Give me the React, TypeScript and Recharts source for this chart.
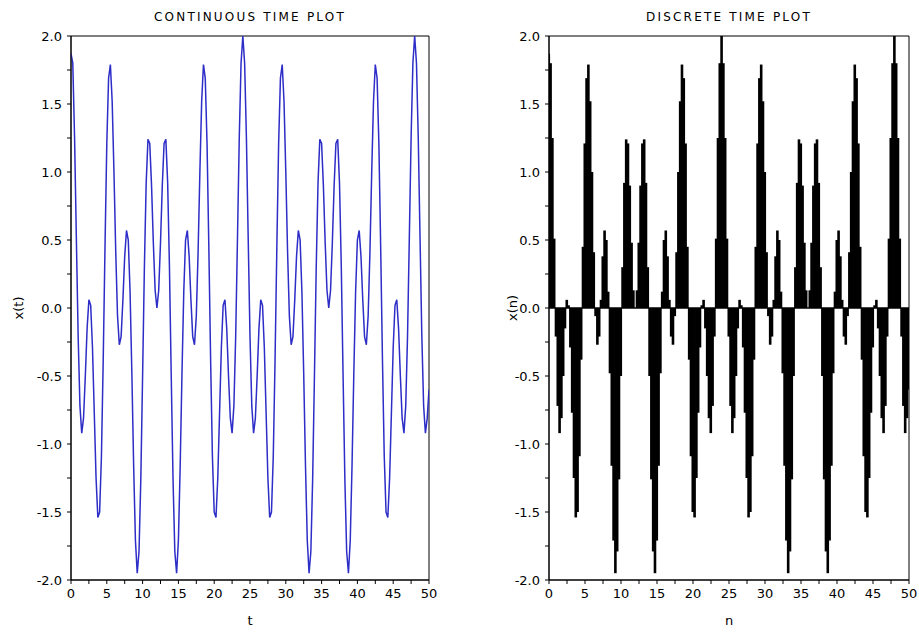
import React from 'react'
import {
  ComposedChart, Line, Bar, XAxis, YAxis, ReferenceArea, ReferenceLine,
} from 'recharts'

// sample spacing of the signal (t and n share the same samples)
const STEP = 0.25

// t = 0 .. 24
const CYCLE_1 = [
  1.87, 1.80, 1.25, 0.51, -0.21, -0.72, -0.92, -0.81, -0.50, -0.15, 0.06, 0.02,
  -0.29, -0.77, -1.25, -1.54, -1.50, -1.09, -0.38, 0.45, 1.21, 1.69, 1.79, 1.52,
  1.00, 0.41, -0.06, -0.27, -0.21, 0.06, 0.38, 0.57, 0.50, 0.12, -0.48, -1.16,
  -1.71, -1.95, -1.79, -1.26, -0.50, 0.30, 0.92, 1.24, 1.21, 0.90, 0.48, 0.13,
  0.00, 0.13, 0.48, 0.90, 1.21, 1.24, 0.92, 0.30, -0.50, -1.26, -1.79, -1.95,
  -1.71, -1.16, -0.48, 0.12, 0.50, 0.57, 0.38, 0.06, -0.21, -0.27, -0.06, 0.41,
  1.00, 1.52, 1.79, 1.69, 1.21, 0.45, -0.38, -1.09, -1.50, -1.54, -1.25, -0.77,
  -0.29, 0.02, 0.06, -0.15, -0.50, -0.81, -0.92, -0.72, -0.21, 0.51, 1.25, 1.80,
  2.00,
]

// t = 24.25 .. 48
const CYCLE_2 = [
  1.80, 1.25, 0.51, -0.21, -0.72, -0.92, -0.81, -0.50, -0.15, 0.06, 0.02,
  -0.29, -0.77, -1.25, -1.54, -1.50, -1.09, -0.38, 0.45, 1.21, 1.69, 1.79, 1.52,
  1.00, 0.41, -0.06, -0.27, -0.21, 0.06, 0.38, 0.57, 0.50, 0.12, -0.48, -1.16,
  -1.71, -1.95, -1.79, -1.26, -0.50, 0.30, 0.92, 1.24, 1.21, 0.90, 0.48, 0.13,
  0.00, 0.13, 0.48, 0.90, 1.21, 1.24, 0.92, 0.30, -0.50, -1.26, -1.79, -1.95,
  -1.71, -1.16, -0.48, 0.12, 0.50, 0.57, 0.38, 0.06, -0.21, -0.27, -0.06, 0.41,
  1.00, 1.52, 1.79, 1.69, 1.21, 0.45, -0.38, -1.09, -1.50, -1.54, -1.25, -0.77,
  -0.29, 0.02, 0.06, -0.15, -0.50, -0.81, -0.92, -0.72, -0.21, 0.51, 1.25, 1.80,
  2.00,
]

// t = 48.25 .. 50
const TAIL = [1.80, 1.25, 0.51, -0.21, -0.72, -0.92, -0.81, -0.60]

const X_TICKS = [0, 2.5, 5, 7.5, 10, 12.5, 15, 17.5, 20, 22.5, 25, 27.5, 30, 32.5, 35, 37.5, 40, 42.5, 45, 47.5, 50]
const Y_TICKS = [-2, -1.75, -1.5, -1.25, -1, -0.75, -0.5, -0.25, 0, 0.25, 0.5, 0.75, 1, 1.25, 1.5, 1.75, 2]

const samples = [...CYCLE_1, ...CYCLE_2, ...TAIL]
const data = samples.map((x, i) => ({ t: i * STEP, x }))

const FONT = 'DejaVu Sans'
const tickStyle = { fill: '#000', fontSize: 13, fontFamily: FONT }

const fmtX = (v: number) => (v % 5 === 0 ? String(v) : '')
const fmtY = (v: number) => (Math.abs(v * 2 - Math.round(v * 2)) < 1e-6 ? v.toFixed(1) : '')

// stem drawn a bit wider than the band so neighbouring samples merge like the original
const Stem = (props: any) => {
  const { x, y, width, height } = props
  if (x == null || y == null) return null
  const top = Math.min(y, y + height)
  const h = Math.abs(height)
  const cx = x + width / 2
  return <rect x={cx - 1.3} y={top} width={2.6} height={h} fill="#000" />
}

type PanelProps = {
  discrete?: boolean
  left: number
  width: number
  marginLeft: number
  marginRight: number
}

function Panel({ discrete, left, width, marginLeft, marginRight }: PanelProps) {
  return (
    <div style={{ position: 'absolute', left, top: 0 }}>
      <ComposedChart
        width={width}
        height={632}
        data={data}
        margin={{ top: 36, right: marginRight, bottom: 22, left: marginLeft }}
      >
        <XAxis
          dataKey="t"
          type="number"
          domain={[0, 50]}
          ticks={X_TICKS}
          tickFormatter={fmtX}
          interval={0}
          height={30}
          tick={tickStyle}
          tickSize={4}
          tickMargin={5}
          stroke="#000"
          allowDataOverflow
        />
        <YAxis
          type="number"
          domain={[-2, 2]}
          ticks={Y_TICKS}
          tickFormatter={fmtY}
          interval={0}
          width={40}
          tick={tickStyle}
          tickSize={4}
          tickMargin={5}
          stroke="#000"
          allowDataOverflow
        />
        <ReferenceArea x1={0} x2={50} y1={-2} y2={2} fill="none" stroke="#000" strokeOpacity={1} />
        {discrete ? (
          <Bar dataKey="x" fill="#000" shape={Stem} isAnimationActive={false} />
        ) : (
          <Line
            dataKey="x"
            type="linear"
            stroke="#2d2dc8"
            strokeWidth={1.5}
            dot={false}
            isAnimationActive={false}
          />
        )}
        {discrete && <ReferenceLine y={0} stroke="#000" strokeWidth={1.5} />}
      </ComposedChart>
    </div>
  )
}

const label = (text: string, x: number, y: number, extra: React.CSSProperties = {}) => (
  <div
    style={{
      position: 'absolute', left: x, top: y, transform: 'translate(-50%, -50%)',
      fontFamily: FONT, fontSize: 13, color: '#000', whiteSpace: 'nowrap', ...extra,
    }}
  >
    {text}
  </div>
)

export default function App() {
  const title = { fontSize: 12, letterSpacing: 2.2 }
  const vertical = { transform: 'translate(-50%, -50%) rotate(-90deg)' }
  return (
    <div style={{ position: 'absolute', left: 0, top: 0, width: 919, height: 632, background: '#fff' }}>
      <Panel left={0} width={460} marginLeft={31} marginRight={31} />
      <Panel discrete left={460} width={459} marginLeft={49} marginRight={10} />
      {label('CONTINUOUS TIME PLOT', 250, 17, title)}
      {label('DISCRETE TIME PLOT', 729, 17, title)}
      {label('x(t)', 18, 308, vertical)}
      {label('x(n)', 512, 308, vertical)}
      {label('t', 250, 620)}
      {label('n', 729, 620)}
    </div>
  )
}
